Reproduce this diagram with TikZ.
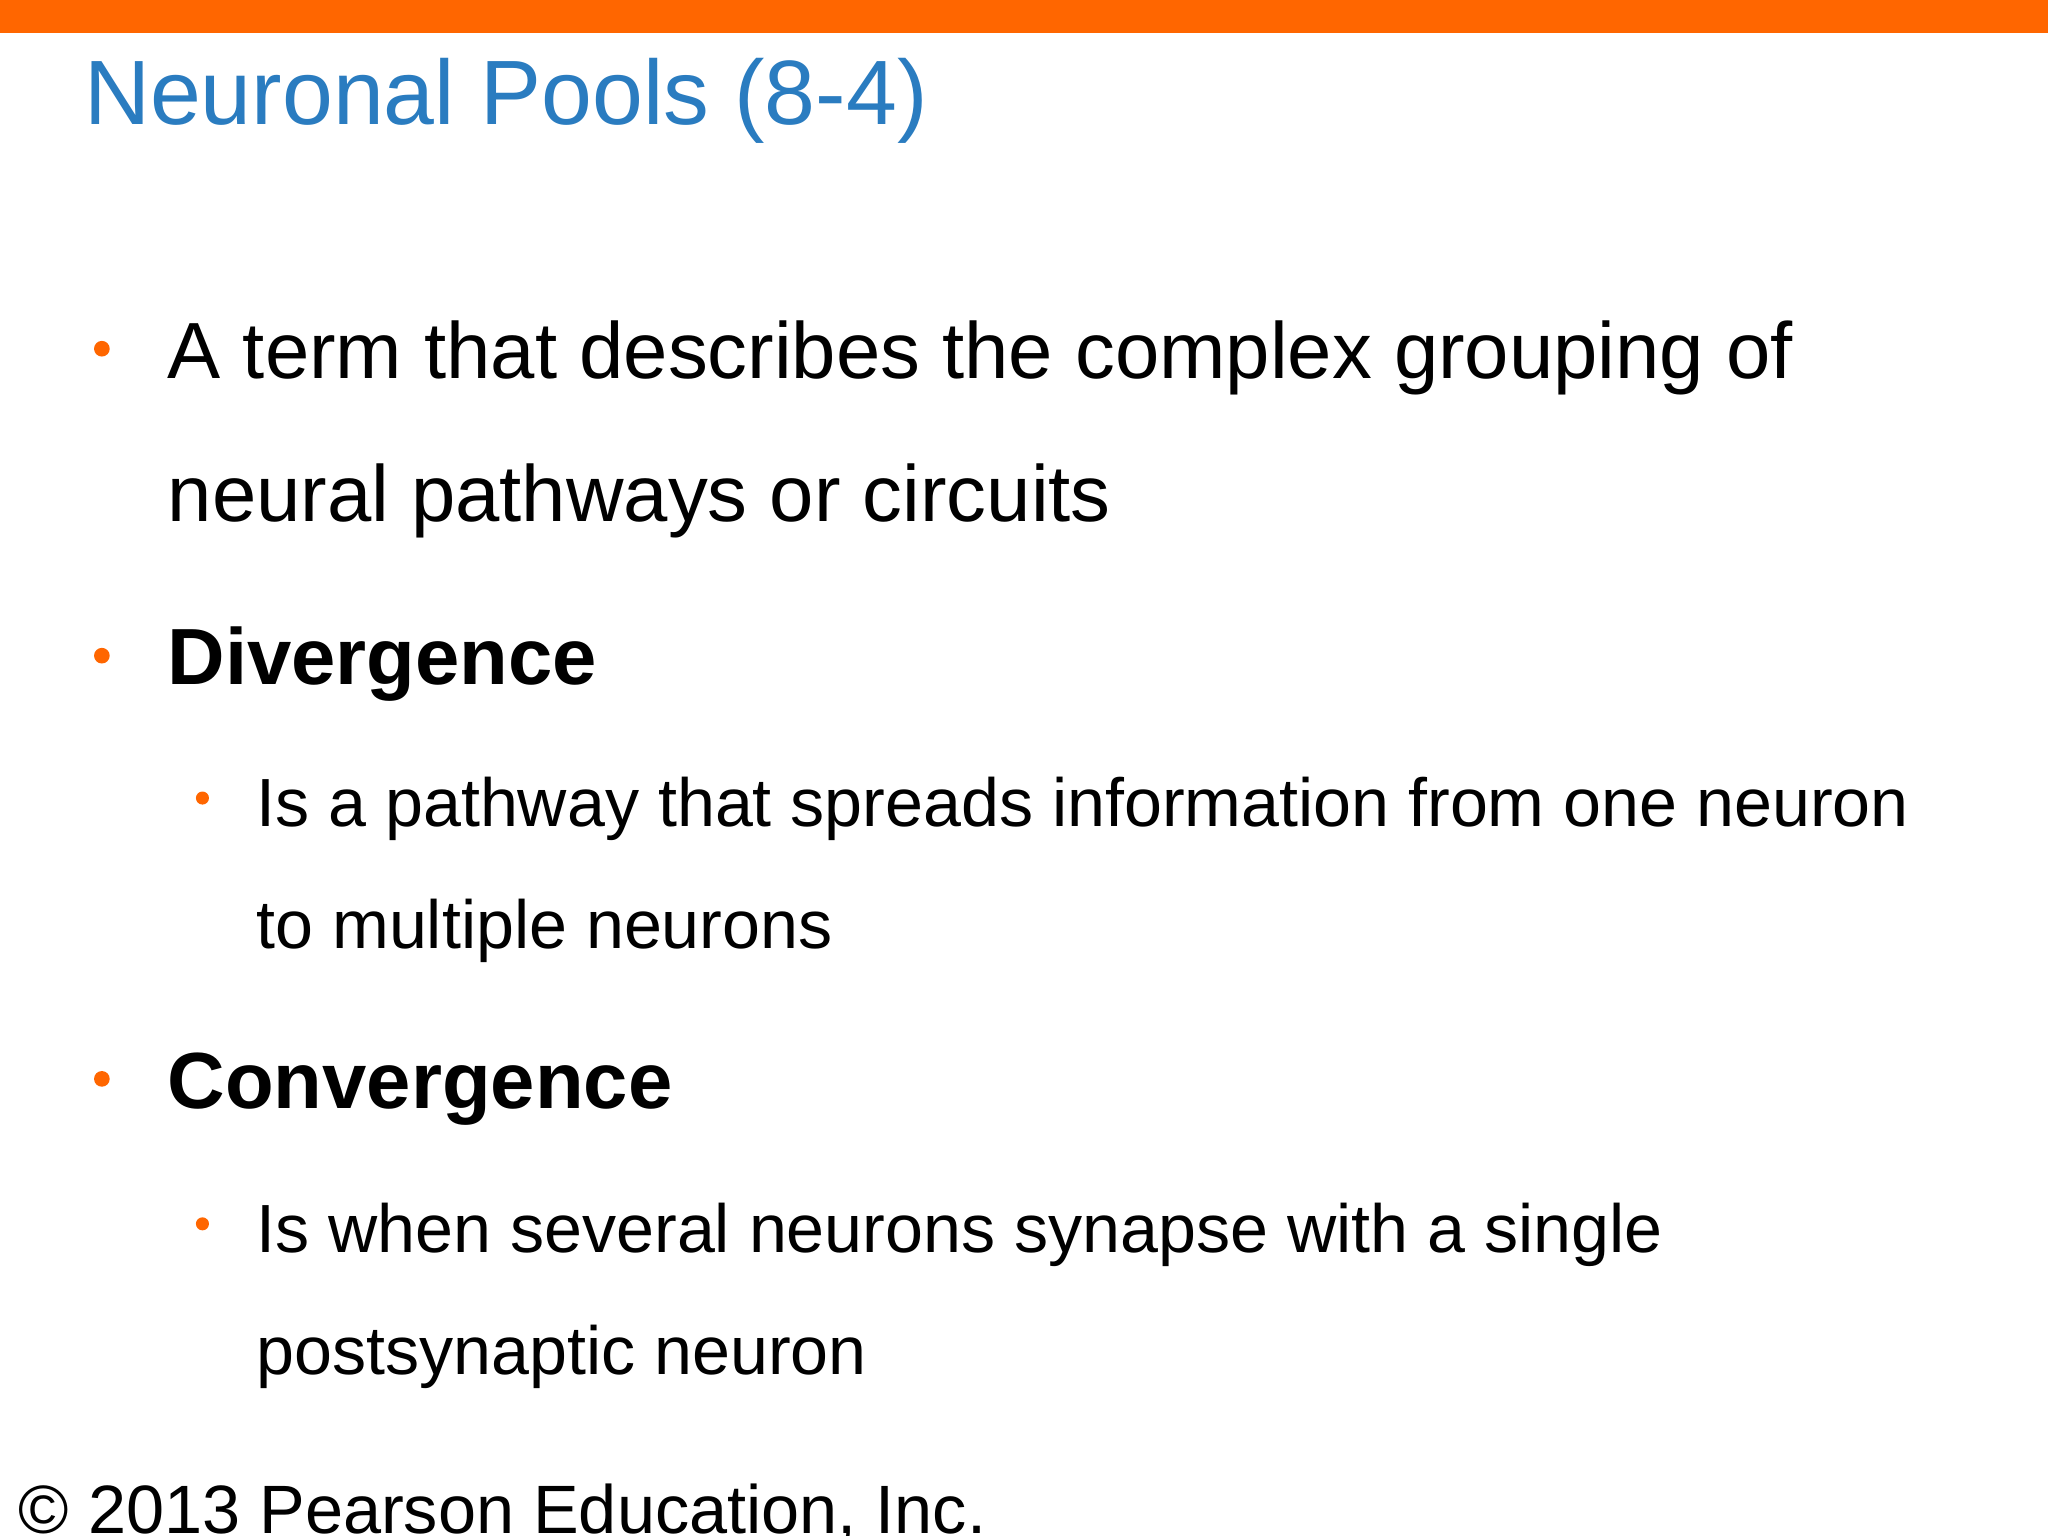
\documentclass[tikz,border=0pt]{standalone}
\usepackage{fontspec}
\setmainfont{Liberation Sans}
\definecolor{topor}{HTML}{FF6600}
\definecolor{ttlblue}{HTML}{2A7CC0}
\begin{document}
\begin{tikzpicture}[x=0.5pt,y=-0.5pt,
  txt/.style={anchor=base west,inner sep=0pt,font=\fontsize{30.5}{36}\selectfont},
  sub/.style={anchor=base west,inner sep=0pt,font=\fontsize{26.1}{32}\selectfont},
  dot/.style={fill=topor,circle,inner sep=0pt,minimum size=6pt}]
\useasboundingbox (0,0) rectangle (1568,1176);
\clip (0,0) rectangle (1568,1176);
\fill[white] (0,0) rectangle (1568,1176);
\fill[topor] (0,0) rectangle (1568,25);
\node[anchor=base west,inner sep=0pt,text=ttlblue,font=\fontsize{35}{42}\selectfont] (title) at (64,95) {Neuronal Pools (8-4)};
\node[dot] (b1) at (78,267) {};
\node[txt] (t1) at (128,290) {A term that describes the complex grouping of};
\node[txt] (t1b) at (128,399) {neural pathways or circuits};
\node[dot] (b2) at (78,502) {};
\node[txt,font=\fontsize{30.5}{36}\selectfont\bfseries] (t2) at (128,524) {Divergence};
\node[dot,minimum size=5pt] (b3) at (155,611) {};
\node[sub] (t3) at (196,633) {Is a pathway that spreads information from one neuron};
\node[sub] (t3b) at (196,726) {to multiple neurons};
\node[dot] (b4) at (78,826) {};
\node[txt,font=\fontsize{30.5}{36}\selectfont\bfseries] (t4) at (128,849) {Convergence};
\node[dot,minimum size=5pt] (b5) at (155,937) {};
\node[sub] (t5) at (196,959) {Is when several neurons synapse with a single};
\node[sub] (t5b) at (196,1052) {postsynaptic neuron};
\node[anchor=base west,inner sep=0pt,font=\fontsize{26.2}{32}\selectfont] (copy) at (14,1174) {© 2013 Pearson Education, Inc.};
\end{tikzpicture}
\end{document}
